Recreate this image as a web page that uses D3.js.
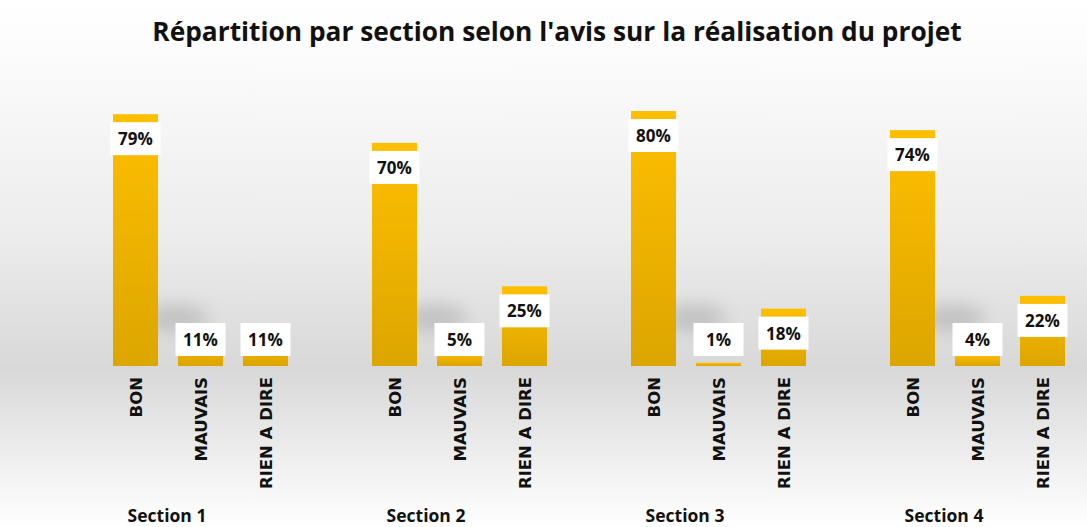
<!DOCTYPE html>
<html><head><meta charset="utf-8">
<script src="https://cdn.jsdelivr.net/npm/d3@7"></script>
<style>html,body{margin:0;padding:0;background:#fff;}svg{display:block;}</style>
</head><body>
<script>
const sections = ["Section 1", "Section 2", "Section 3", "Section 4"];
const categories = ["BON", "MAUVAIS", "RIEN A DIRE"];
const bon = [79, 70, 80, 74];
const mauvais = [11, 5, 1, 4];
const rienADire = [11, 25, 18, 22];
const title = "Répartition par section selon l'avis sur la réalisation du projet";

const W = 1087, H = 527;
const svg = d3.select("body").append("svg").attr("width", W).attr("height", H);
const defs = svg.append("defs");

const bg = defs.append("linearGradient").attr("id", "bg").attr("x1", 0).attr("y1", 0).attr("x2", 0).attr("y2", 1);
[[0, "#ffffff"], [0.12, "#fbfbfb"], [0.45, "#ececec"], [0.7, "#d8d8d8"], [0.86, "#ededed"], [1, "#ffffff"]]
  .forEach(([o, c]) => bg.append("stop").attr("offset", o).attr("stop-color", c));
const bar = defs.append("linearGradient").attr("id", "bar").attr("x1", 0).attr("y1", 0).attr("x2", 0).attr("y2", 1);
[[0, "#ffbf00"], [1, "#dca600"]].forEach(([o, c]) => bar.append("stop").attr("offset", o).attr("stop-color", c));
defs.append("filter").attr("id", "blur").attr("x", "-50%").attr("y", "-50%").attr("width", "200%").attr("height", "200%")
  .append("feGaussianBlur").attr("stdDeviation", 9);

svg.append("rect").attr("width", W).attr("height", H).attr("fill", "url(#bg)");

svg.append("text").attr("x", 557).attr("y", 41).attr("text-anchor", "middle")
  .attr("font-family", "'Open Sans', sans-serif").attr("font-weight", "bold")
  .attr("font-size", 26.3).attr("fill", "#111").text(title);

const data = sections.map((s, i) => ({ section: s, values: [bon[i], mauvais[i], rienADire[i]] }));

const x0 = d3.scaleBand().domain(sections).range([103, 1075]).paddingInner(64 / 259);
const x1 = d3.scaleBand().domain(categories).range([0, x0.bandwidth()]).paddingInner(20 / 65).paddingOuter(10 / 65);
const y = d3.scaleLinear().domain([0, 80]).range([366, 111]);

const g = svg.selectAll("g.sec").data(data).join("g").attr("class", "sec")
  .attr("transform", d => `translate(${x0(d.section)},0)`);

// soft shadow
g.append("ellipse").attr("cx", x1("MAUVAIS") - 2).attr("cy", 318).attr("rx", 32).attr("ry", 13)
  .attr("fill", "#9a9a9a").attr("opacity", 0.45).attr("filter", "url(#blur)");

const items = g.selectAll("g.item").data(d => d.values.map((v, j) => ({ cat: categories[j], v })))
  .join("g").attr("class", "item");

items.append("rect").attr("x", d => x1(d.cat)).attr("width", x1.bandwidth())
  .attr("y", d => y(d.v)).attr("height", d => y(0) - y(d.v)).attr("fill", "url(#bar)");

const boxW = 50, boxH = 33;
const boxTop = d => (y(0) - y(d.v) >= 50) ? y(d.v) + 8 : y(0) - 10 - boxH;
items.append("rect").attr("x", d => x1(d.cat) + x1.bandwidth() / 2 - boxW / 2).attr("y", boxTop)
  .attr("width", boxW).attr("height", boxH).attr("fill", "#ffffff");
items.append("text").attr("x", d => x1(d.cat) + x1.bandwidth() / 2).attr("y", d => boxTop(d) + boxH / 2 + 6.5)
  .attr("text-anchor", "middle").attr("font-family", "'Open Sans', sans-serif").attr("font-weight", "bold")
  .attr("font-size", 17).attr("fill", "#111").text(d => d.v + "%");

items.append("text")
  .attr("transform", d => `translate(${x1(d.cat) + x1.bandwidth() / 2 + 6.5},377) rotate(-90)`)
  .attr("text-anchor", "end").attr("font-family", "'DejaVu Sans', sans-serif").attr("font-weight", "bold")
  .attr("font-size", 16.5).attr("fill", "#111").text(d => d.cat);

g.append("text").attr("x", 64).attr("y", 522).attr("text-anchor", "middle")
  .attr("font-family", "'Open Sans', sans-serif").attr("font-weight", "bold")
  .attr("font-size", 17.5).attr("fill", "#111").text(d => d.section);
</script>
</body></html>
